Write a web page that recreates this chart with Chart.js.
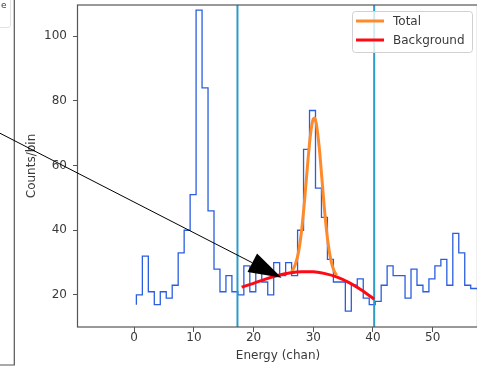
<!DOCTYPE html>
<html>
<head>
<meta charset="utf-8">
<script src="https://cdn.jsdelivr.net/npm/chart.js@4"></script>
<style>
  html, body { margin: 0; padding: 0; background: #fff; overflow: hidden; }
  canvas { display: block; }
</style>
</head>
<body>
<canvas id="chart" width="480" height="366"></canvas>
<script>
'use strict';

// histogram counts per channel bin (steps-pre, first value is only the start point)
var counts = [17, 20, 32, 21, 17, 21, 19, 23, 33, 40,
              51, 108, 84, 46, 28, 21, 26, 21, 20, 29,
              21, 29, 24, 20, 30, 26, 30, 26, 40, 65,
              77, 53, 44, 31, 24, 24, 15, 23, 25, 19,
              17, 18, 23, 29, 26, 26, 19, 28, 23, 21,
              25, 29, 31, 23, 39, 33, 23, 22, 22];
var firstEdge = 0.37;

// fitted curves
var totalX = [26.4, 27, 27.5, 28, 28.5, 29, 29.5, 30, 30.25, 30.5, 31, 31.5, 32, 32.5, 33, 33.5, 33.9];
var totalY = [27.2, 29.5, 33.0, 39.3, 48.4, 59.3, 69.1, 74.4, 74.7, 73.0, 65.5, 54.7, 43.9, 35.7, 30.3, 27.4, 26.1];
var backX = [18.0, 20, 22, 24, 26, 28, 30, 32, 34, 36, 38, 40.2];
var backY = [22.4, 23.6, 24.9, 26.0, 26.8, 27.2, 27.2, 26.6, 25.5, 23.8, 21.6, 18.7];

// fit region bounds
var fitBounds = [17.3, 40.2];

// annotation arrow (data units)
var arrowFrom = [-24.2, 71.6];
var arrowTo = [24.7, 25.3];

var xTicks = [0, 10, 20, 30, 40, 50];
var yTicks = [20, 40, 60, 80, 100];

var X_MIN = -9.41, X_MAX = 57.59;
var Y_MIN = 10.1, Y_MAX = 109.6;

var FONT = 'DejaVu Sans';
var TEXT = '#3a3a3a';
var SPINE = '#555555';

function pairs(xs, ys) {
    return xs.map(function (x, i) { return {x: x, y: ys[i]}; });
}

var histData = counts.map(function (c, i) { return {x: i + firstEdge, y: c}; });

var datasets = [{
    label: 'Background',
    inLegend: true,
    data: pairs(backX, backY),
    borderColor: '#ff0a14',
    borderWidth: 3,
    cubicInterpolationMode: 'monotone',
    order: 0
}, {
    label: 'Total',
    inLegend: true,
    data: pairs(totalX, totalY),
    borderColor: '#ff8a2a',
    borderWidth: 3,
    cubicInterpolationMode: 'monotone',
    order: 1
}];

fitBounds.forEach(function (b, i) {
    datasets.push({
        label: 'bound' + i,
        data: [{x: b, y: Y_MIN}, {x: b, y: Y_MAX}],
        borderColor: '#2b9bc9',
        borderWidth: 2,
        order: 2
    });
});

datasets.push({
    label: 'data',
    data: histData,
    borderColor: '#2a5ee0',
    borderWidth: 1.3,
    stepped: 'after',   // vertical first, like matplotlib steps-pre
    order: 3
});

// frame round the plot area (matplotlib spines)
var framePlugin = {
    id: 'frame',
    afterDraw: function (chart) {
        var a = chart.chartArea, ctx = chart.ctx;
        ctx.save();
        ctx.strokeStyle = SPINE;
        ctx.lineWidth = 1.2;
        ctx.strokeRect(a.left - 0.5, a.top, a.right - a.left, a.bottom - a.top);
        ctx.restore();
    }
};

// arrow annotation
var arrowPlugin = {
    id: 'arrow',
    afterDraw: function (chart) {
        var sx = chart.scales.x, sy = chart.scales.y, ctx = chart.ctx;
        var x0 = sx.getPixelForValue(arrowFrom[0]), y0 = sy.getPixelForValue(arrowFrom[1]);
        var x1 = sx.getPixelForValue(arrowTo[0]), y1 = sy.getPixelForValue(arrowTo[1]);
        var ang = Math.atan2(y1 - y0, x1 - x0);
        var len = 33, half = 10.5;
        var bx = x1 - len * Math.cos(ang), by = y1 - len * Math.sin(ang);
        ctx.save();
        ctx.strokeStyle = '#000';
        ctx.lineWidth = 1;
        ctx.beginPath();
        ctx.moveTo(x0, y0);
        ctx.lineTo(bx, by);
        ctx.stroke();
        ctx.fillStyle = '#000';
        ctx.beginPath();
        ctx.moveTo(x1, y1);
        ctx.lineTo(bx + half * Math.sin(ang), by - half * Math.cos(ang));
        ctx.lineTo(bx - half * Math.sin(ang), by + half * Math.cos(ang));
        ctx.closePath();
        ctx.fill();
        ctx.restore();
    }
};

// legend box in the upper right corner
var legendPlugin = {
    id: 'boxLegend',
    afterDraw: function (chart) {
        var ctx = chart.ctx;
        var items = chart.data.datasets.filter(function (d) { return d.inLegend; });
        items.sort(function (a, b) { return b.order - a.order; });
        var x = 352.5, y = 11.5, w = 120, h = 41, r = 3;
        ctx.save();
        ctx.beginPath();
        ctx.moveTo(x + r, y);
        ctx.arcTo(x + w, y, x + w, y + h, r);
        ctx.arcTo(x + w, y + h, x, y + h, r);
        ctx.arcTo(x, y + h, x, y, r);
        ctx.arcTo(x, y, x + w, y, r);
        ctx.closePath();
        ctx.fillStyle = 'rgba(255,255,255,0.8)';
        ctx.fill();
        ctx.strokeStyle = '#d0d0d0';
        ctx.lineWidth = 1;
        ctx.stroke();
        ctx.font = '12px "' + FONT + '"';
        ctx.textBaseline = 'middle';
        ctx.fillStyle = TEXT;
        items.forEach(function (d, i) {
            var ly = 21 + i * 19;
            ctx.strokeStyle = d.borderColor;
            ctx.lineWidth = 3;
            ctx.beginPath();
            ctx.moveTo(356, ly);
            ctx.lineTo(384, ly);
            ctx.stroke();
            ctx.fillText(d.label, 393, ly + 1);
        });
        ctx.restore();
    }
};

// remains of the neighbouring panel on the left edge
var sidePlugin = {
    id: 'side',
    beforeDraw: function (chart) {
        var ctx = chart.ctx;
        ctx.save();
        ctx.fillStyle = '#fff';
        ctx.fillRect(0, 0, chart.width, chart.height);
        ctx.strokeStyle = '#e2e2e2';
        ctx.lineWidth = 1;
        ctx.beginPath();
        ctx.moveTo(10.5, -4);
        ctx.lineTo(10.5, 25);
        ctx.arcTo(10.5, 27.5, 8, 27.5, 2.5);
        ctx.lineTo(-4, 27.5);
        ctx.stroke();
        ctx.fillStyle = TEXT;
        ctx.font = '9px "' + FONT + '"';
        ctx.textBaseline = 'middle';
        ctx.fillText('e', 1, 6);
        ctx.strokeStyle = SPINE;
        ctx.lineWidth = 1.2;
        ctx.beginPath();
        ctx.moveTo(14.3, 0);
        ctx.lineTo(14.3, 365);
        ctx.lineTo(0, 365);
        ctx.stroke();
        ctx.restore();
    }
};

var ctx = document.getElementById('chart').getContext('2d');
var myChart = new Chart(ctx, {
    type: 'scatter',
    data: {datasets: datasets},
    plugins: [sidePlugin, framePlugin, legendPlugin, arrowPlugin],
    options: {
        responsive: false,
        animation: false,
        showLine: true,
        layout: {padding: {top: 5, right: 2, left: 0, bottom: 0}},
        elements: {
            point: {radius: 0, hoverRadius: 0},
            line: {tension: 0, fill: false}
        },
        plugins: {
            legend: {display: false},
            tooltip: {enabled: false}
        },
        scales: {
            x: {
                type: 'linear',
                min: X_MIN,
                max: X_MAX,
                afterBuildTicks: function (s) {
                    s.ticks = xTicks.map(function (v) { return {value: v}; });
                },
                afterFit: function (s) {
                    s.height = 39;
                    s.paddingLeft = 0;
                    s.paddingRight = 0;
                },
                grid: {display: true, drawOnChartArea: false, drawTicks: true, tickLength: 5, color: SPINE},
                border: {display: false},
                ticks: {
                    color: TEXT, padding: 0, maxRotation: 0, autoSkip: false,
                    font: {family: FONT, size: 12, lineHeight: 1}
                },
                title: {
                    display: true, text: 'Energy (chan)', color: TEXT,
                    font: {family: FONT, size: 12, lineHeight: 1.2},
                    padding: {top: 0, bottom: 3}
                }
            },
            y: {
                type: 'linear',
                min: Y_MIN,
                max: Y_MAX,
                afterBuildTicks: function (s) {
                    s.ticks = yTicks.map(function (v) { return {value: v}; });
                },
                afterFit: function (s) {
                    s.width = 78;
                    s.paddingTop = 0;
                    s.paddingBottom = 0;
                },
                grid: {display: true, drawOnChartArea: false, drawTicks: true, tickLength: 5, color: SPINE},
                border: {display: false},
                ticks: {
                    color: TEXT, padding: 6, autoSkip: false,
                    font: {family: FONT, size: 12}
                },
                title: {
                    display: true, text: 'Counts/bin', color: TEXT,
                    font: {family: FONT, size: 12, lineHeight: 1.2},
                    padding: {top: 25, bottom: 0}
                }
            }
        }
    }
});
</script>
</body>
</html>
